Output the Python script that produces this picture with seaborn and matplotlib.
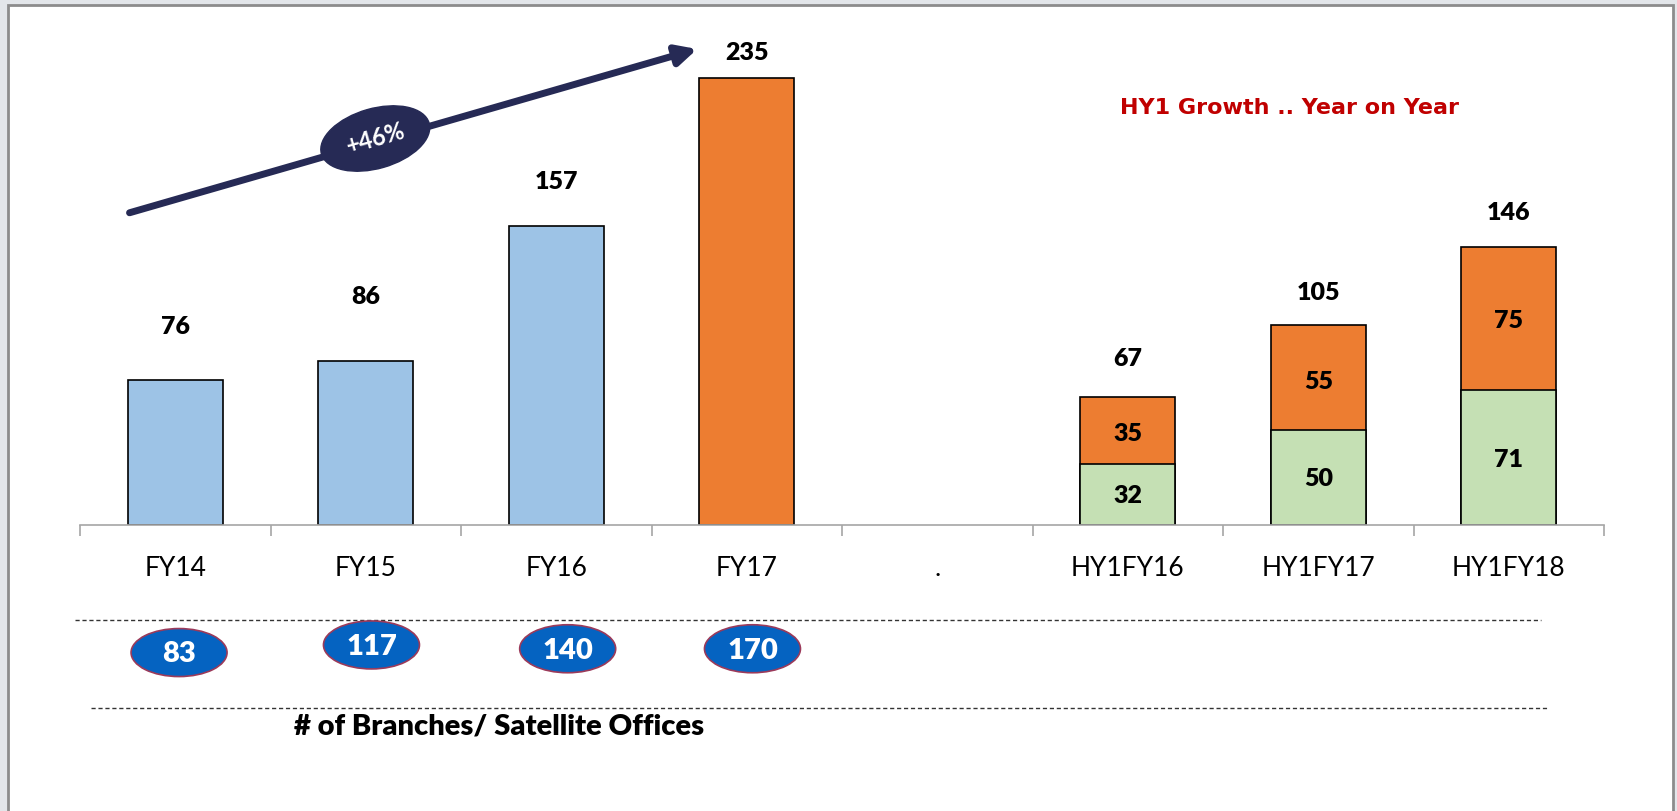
import numpy as np
import pandas as pd
import matplotlib
matplotlib.use("Agg")
import matplotlib.pyplot as plt
import seaborn as sns
from matplotlib.patches import Ellipse, Rectangle
from matplotlib.transforms import ScaledTranslation

# %% data
categories = ["FY14", "FY15", "FY16", "FY17", ".", "HY1FY16", "HY1FY17", "HY1FY18"]
totals = [76, 86, 157, 235, None, 67, 105, 146]
hy_cats = ["HY1FY16", "HY1FY17", "HY1FY18"]
hy_base = [32, 50, 71]
hy_top = [35, 55, 75]
branch_cats = ["FY14", "FY15", "FY16", "FY17"]
branches = [83, 117, 140, 170]
growth_text = "+46%"

bar_colors = {"FY14": "#9dc3e6", "FY15": "#9dc3e6", "FY16": "#9dc3e6", "FY17": "#ed7d31",
              ".": "#ffffff", "HY1FY16": "#ed7d31", "HY1FY17": "#ed7d31", "HY1FY18": "#ed7d31"}

df = pd.DataFrame({"cat": categories, "total": totals}).dropna()
hy = pd.DataFrame({"cat": hy_cats, "base": hy_base, "top": hy_top})

# %% figure
sns.set_style("white")
plt.rcParams["font.family"] = ["Lato", "DejaVu Sans"]
plt.rcParams["text.color"] = "black"
plt.rcParams["xtick.color"] = "black"
fig = plt.figure(figsize=(16.77, 8.11), dpi=100)
fig.patch.set_facecolor("#e3e6ea")
fig.add_artist(Rectangle((8 / 1677, -0.01), 1665 / 1677, 806 / 811 + 0.01,
                         transform=fig.transFigure, fc="white", ec="#8c8c8c", lw=2, zorder=-5))
ax = fig.add_axes([80 / 1677, (811 - 525) / 811, 1524 / 1677, 495 / 811])
ax.patch.set_alpha(0)

sns.barplot(data=df, x="cat", y="total", hue="cat", order=categories, hue_order=categories,
            palette=bar_colors, saturation=1, width=0.5, edgecolor="black", linewidth=1.2,
            legend=False, ax=ax)
sns.barplot(data=hy, x="cat", y="base", order=categories, color="#c5e0b4", saturation=1,
            width=0.5, edgecolor="black", linewidth=1.2, ax=ax)

ax.set_xlim(-0.5, 7.5)
ax.set_ylim(0, 260)
ax.set_xlabel("")
ax.set_ylabel("")
ax.set_yticks([])
for s in ["top", "right", "left"]:
    ax.spines[s].set_visible(False)
ax.spines["bottom"].set_color("#a6a6a6")
ax.spines["bottom"].set_linewidth(1.2)
ax.set_xticks(np.arange(-0.5, 8.0, 1.0), minor=True)
ax.tick_params(axis="x", which="minor", bottom=True, length=8, color="#a6a6a6", width=1.2,
               direction="out")
ax.tick_params(axis="x", which="major", bottom=False, length=0, pad=22, labelsize=19,
               labelcolor="black")

# value labels above bars (positions)
label_y = {"FY14": 104, "FY15": 120, "FY16": 180, "FY17": 248,
           "HY1FY16": 87, "HY1FY17": 122, "HY1FY18": 164}
for i, (c, v) in enumerate(zip(categories, totals)):
    if v is None:
        continue
    ax.text(i, label_y[c], f"{v}", ha="center", va="center", fontsize=18, fontweight="heavy")

base_y = [15, 24, 34]
top_y = [48, 75, 107]
for c, b, t, by, ty in zip(hy_cats, hy_base, hy_top, base_y, top_y):
    i = categories.index(c)
    ax.text(i, by, f"{b}", ha="center", va="center", fontsize=18, fontweight="heavy")
    ax.text(i, ty, f"{t}", ha="center", va="center", fontsize=18, fontweight="heavy")

# growth arrow
navy = "#262a55"
ax.annotate("", xy=(2.74, 250), xytext=(-0.24, 164), annotation_clip=False,
            arrowprops=dict(arrowstyle="-|>", lw=5, color=navy, mutation_scale=30,
                            shrinkA=0, shrinkB=0))
off = ScaledTranslation(1.05, 203, ax.transData)
ax.add_patch(Ellipse((0, 0), 1.12, 0.6, angle=16, transform=fig.dpi_scale_trans + off,
                     fc=navy, ec=navy, clip_on=False, zorder=5))
ax.text(1.05, 203, growth_text, rotation=16, ha="center", va="center", color="white",
        fontsize=17, fontweight="bold", zorder=6)

ax.text(5.85, 219, "HY1 Growth .. Year on Year", ha="center", va="center",
        color="#c00000", fontsize=16, fontweight="bold", family="DejaVu Sans")

# branches row
ax.plot([-0.526, 7.17], [-50, -50], ls=(0, (3, 2)), color="#333333", lw=1, clip_on=False)
ax.plot([-0.44, 7.20], [-96, -96], ls=(0, (3, 2)), color="#333333", lw=1, clip_on=False)
br_dx = [0.02, 0.03, 0.06, 0.03]
br_y = [-67, -63, -65, -65]
for c, n, dx, yy in zip(branch_cats, branches, br_dx, br_y):
    i = categories.index(c) + dx
    t = ScaledTranslation(i, yy, ax.transData)
    ax.add_patch(Ellipse((0, 0), 0.96, 0.48, transform=fig.dpi_scale_trans + t,
                         fc="#0563c1", ec="#9b3a5a", lw=1.2, clip_on=False, zorder=5))
    ax.text(i, yy - 1, f"{n}", ha="center", va="center", color="white", fontsize=21,
            fontweight="heavy", zorder=6, clip_on=False)
ax.text(1.70, -106, "# of Branches/ Satellite Offices", ha="center", va="center",
        fontsize=21, fontweight="heavy", clip_on=False)

fig.savefig("out.png", dpi=100, facecolor=fig.get_facecolor())
